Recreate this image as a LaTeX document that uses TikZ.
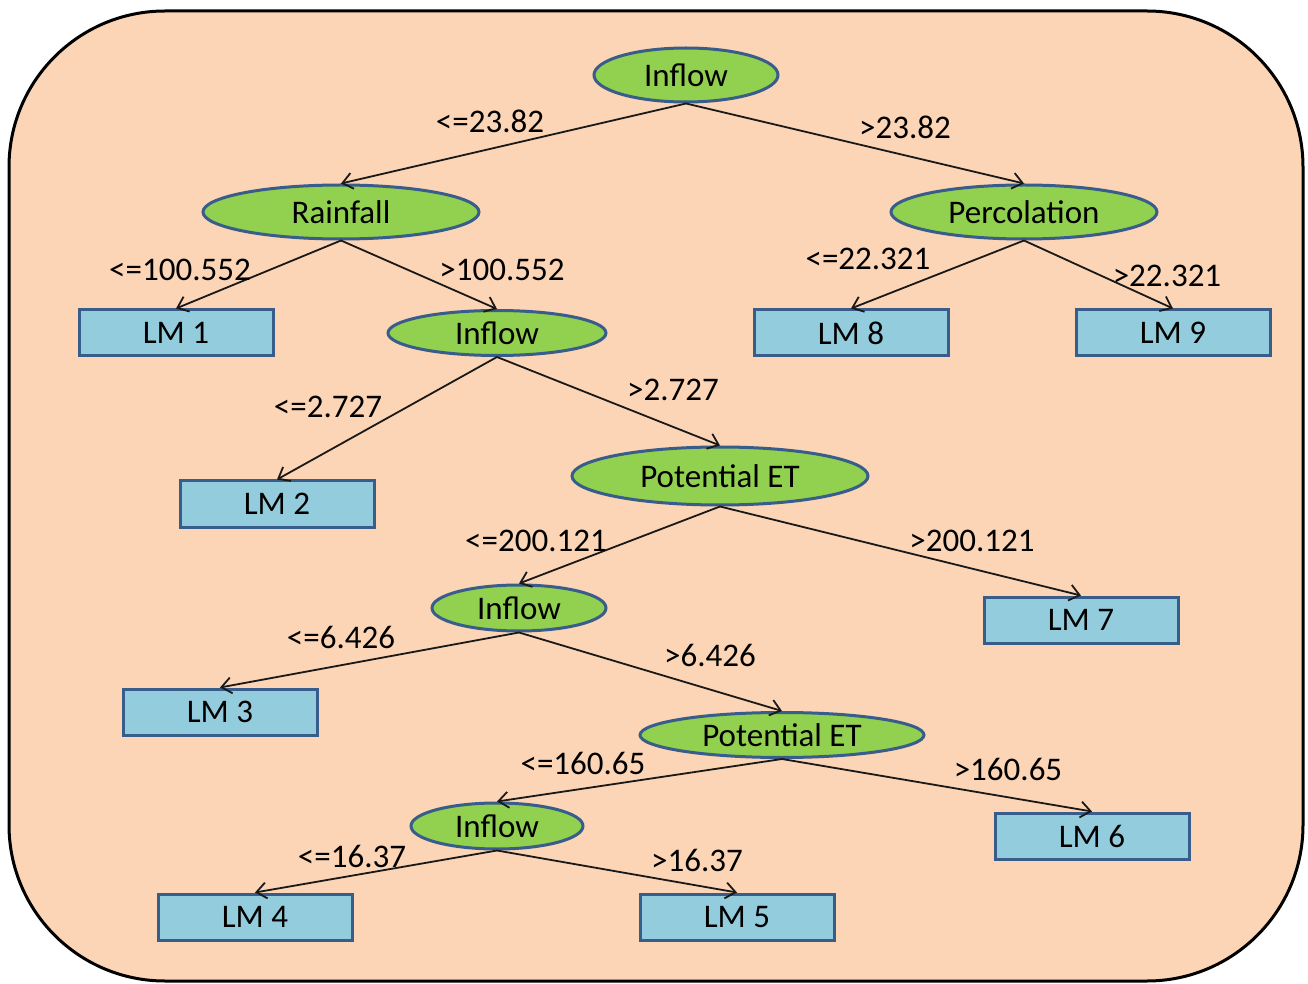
\documentclass[tikz,border=0pt]{standalone}
\usepackage{fontspec}
\setmainfont{Carlito}
\usepackage{tikz}
\usetikzlibrary{arrows.meta, shapes.geometric}

\definecolor{peach}{HTML}{FBD5B5}
\definecolor{leafgreen}{HTML}{92D050}
\definecolor{aqua}{HTML}{93CDDD}
\definecolor{outline}{HTML}{385D8A}

\tikzset{
  split/.style={ellipse, draw=outline, fill=leafgreen, line width=1.5pt, inner sep=0pt, minimum height=27pt},
  model/.style={rectangle, draw=outline, fill=aqua, line width=1.5pt, inner sep=0pt, minimum width=97pt, minimum height=23pt},
  branch/.style={->, line width=0.9pt, black!90},
  cond/.style={inner sep=1pt}
}

\begin{document}
\begin{tikzpicture}[x=0.5pt, y=-0.5pt, >={Straight Barb[length=5pt, width=8pt]}, font=\fontsize{16.5}{19}\selectfont]
      \useasboundingbox (0,0) rectangle (1308,984);
      \draw[fill=peach, line width=1.5pt, rounded corners=78pt] (9,11) rectangle (1303,981);

      % split nodes
      \node[split, minimum width=92pt] (in1) at (686,75) {Inflow};
      \node[split, minimum width=138pt] (rain) at (341,212) {Rainfall};
      \node[split, minimum width=133pt] (perc) at (1024,212) {Percolation};
      \node[split, minimum width=109pt, minimum height=22.5pt] (in2) at (497,333) {Inflow};
      \node[split, minimum width=148pt, minimum height=29pt] (pet1) at (720,476) {Potential ET};
      \node[split, minimum width=87pt, minimum height=23pt] (in3) at (519,608) {Inflow};
      \node[split, minimum width=142pt, minimum height=22.5pt] (pet2) at (782,735) {Potential ET};
      \node[split, minimum width=86pt, minimum height=23pt] (in4) at (497,826) {Inflow};

      % linear models
      \node[model] (lm1) at (176,333) {LM 1};
      \node[model] (lm2) at (277,504) {LM 2};
      \node[model] (lm3) at (220,712) {LM 3};
      \node[model] (lm4) at (255,917) {LM 4};
      \node[model] (lm5) at (737,917) {LM 5};
      \node[model] (lm6) at (1092,836) {LM 6};
      \node[model] (lm7) at (1081,620) {LM 7};
      \node[model] (lm8) at (851,333) {LM 8};
      \node[model] (lm9) at (1173,333) {LM 9};

      % branches
      \draw[branch] (in1.south) -- (rain.north);
      \draw[branch] (in1.south) -- (perc.north);
      \draw[branch] (rain.south) -- (lm1.north);
      \draw[branch] (rain.south) -- (in2.north);
      \draw[branch] (perc.south) -- (lm8.north);
      \draw[branch] (perc.south) -- (lm9.north);
      \draw[branch] (in2.south) -- (lm2.north);
      \draw[branch] (in2.south) -- (pet1.north);
      \draw[branch] (pet1.south) -- (in3.north);
      \draw[branch] (pet1.south) -- (lm7.north);
      \draw[branch] (in3.south) -- (lm3.north);
      \draw[branch] (in3.south) -- (pet2.north);
      \draw[branch] (pet2.south) -- (in4.north);
      \draw[branch] (pet2.south) -- (lm6.north);
      \draw[branch] (in4.south) -- (lm4.north);
      \draw[branch] (in4.south) -- (lm5.north);

      % conditions
      \node[cond] (c1) at (490,121) {<=23.82};
      \node[cond] (c2) at (905,127) {>23.82};
      \node[cond] (c3) at (180,270) {<=100.552};
      \node[cond] (c4) at (502,270) {>100.552};
      \node[cond] (c5) at (868,259) {<=22.321};
      \node[cond] (c6) at (1167,276) {>22.321};
      \node[cond] (c7) at (328,407) {<=2.727};
      \node[cond] (c8) at (673,390) {>2.727};
      \node[cond] (c9) at (536,541) {<=200.121};
      \node[cond] (c10) at (972,541) {>200.121};
      \node[cond] (c11) at (341,637) {<=6.426};
      \node[cond] (c12) at (710,655) {>6.426};
      \node[cond] (c13) at (583,763) {<=160.65};
      \node[cond] (c14) at (1008,769) {>160.65};
      \node[cond] (c15) at (352,856) {<=16.37};
      \node[cond] (c16) at (697,860) {>16.37};
\end{tikzpicture}
\end{document}
